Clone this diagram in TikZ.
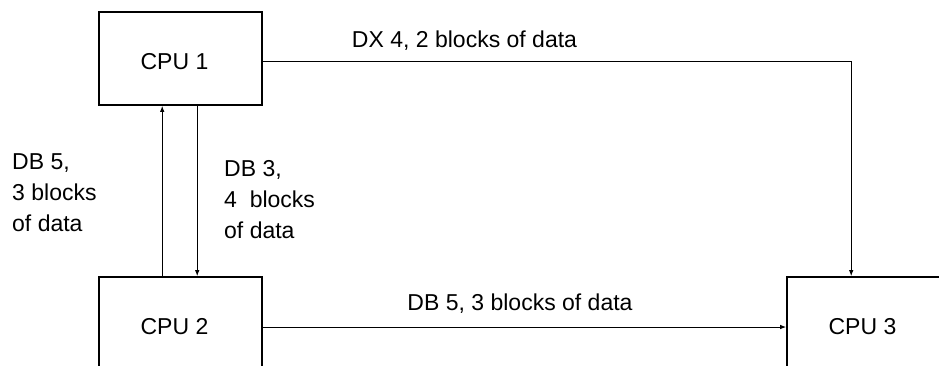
\documentclass[tikz,border=0pt]{standalone}
\usepackage{fontspec}
\setmainfont{Liberation Sans}
\usetikzlibrary{arrows.meta, positioning, calc}
\begin{document}
\begin{tikzpicture}[x=1pt, y=-1pt,
  cpubox/.style={draw, line width=1.6pt, minimum width=163pt, minimum height=93pt,
    inner sep=0pt, label={[font=\fontsize{23}{27}\selectfont, xshift=-6pt, yshift=-3.5pt]center:#1}},
  flow/.style={line width=1pt, -{Latex[length=6pt, width=4.5pt]}},
  lbl/.style={inner sep=0pt, align=left, font=\fontsize{23}{31}\selectfont}]
\clip (0,0) rectangle (939,365);

% Processors
\node[cpubox={CPU 1}] (cpu1) at (180.5, 58.5) {};
\node[cpubox={CPU 2}] (cpu2) at (180.5, 323.5) {};
\node[cpubox={CPU 3}] (cpu3) at (868.5, 323.5) {};

% Data transfers
\coordinate (out1) at ([yshift=-2.5pt]cpu1.east);
\coordinate (out2) at ([yshift=-3.5pt]cpu2.east);
\draw[flow] (out1) -| ([xshift=65pt]cpu3.north west);
\draw[flow] (out2) -- (out2 -| cpu3.west);
\draw[flow] ([xshift=64pt]cpu2.north west) -- ([xshift=64pt]cpu1.south west);
\draw[flow] ([xshift=99pt]cpu1.south west) -- ([xshift=99pt]cpu2.north west);

% Labels
\node[lbl, anchor=base] (dx4) at (464.5, 47) {DX 4, 2 blocks of data};
\node[lbl, anchor=base] (db5) at (520, 310) {DB 5, 3 blocks of data};
\node[lbl, anchor=north west] (db5up) at (12, 153) {DB 5,\\3 blocks\\of data};
\node[lbl, anchor=north west] (db3down) at (224, 160) {DB 3,\\4\ \ blocks\\of data};
\end{tikzpicture}
\end{document}
